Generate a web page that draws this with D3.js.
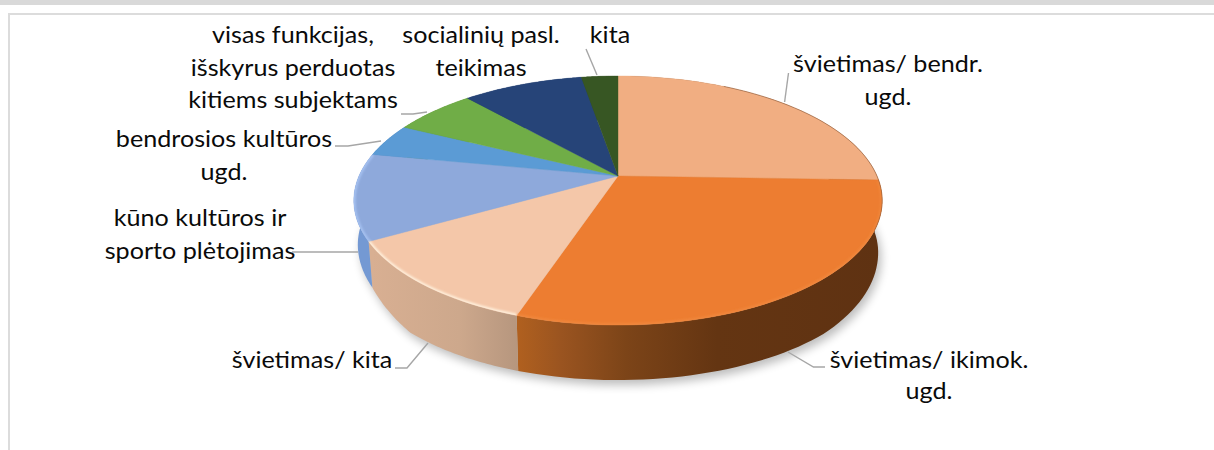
<!DOCTYPE html>
<html><head><meta charset="utf-8">
<script src="https://cdn.jsdelivr.net/npm/d3@7/dist/d3.min.js"></script>
<style>html,body{margin:0;padding:0;background:#fff}svg{display:block}text{font-family:Lato,"Open Sans",sans-serif;fill:#0a0a0a}</style>
</head><body><div id="chart"></div>
<script>
// Data (shares in %)
const categories = ["švietimas/ bendr. ugd.","švietimas/ ikimok. ugd.","švietimas/ kita","kūno kultūros ir sporto plėtojimas","bendrosios kultūros ugd.","visas funkcijas, išskyrus perduotas kitiems subjektams","socialinių pasl. teikimas","kita"];
const values = [25.5,29.6,11.6,11.2,4.3,6.1,8.9,2.7];
const topColors = ["#f1ae82","#ed7d31","#f4c7a9","#8ea9db","#5b9bd5","#70ad47","#264478","#375623"];
const sideColors = ["#8a5a3a","#7a4216","#c4a085","#7499d3","#4a7fb0","#5a8a38","#1e3660","#2c451c"];
const labelLines = [["švietimas/ bendr.","ugd."],["švietimas/ ikimok.","ugd."],["švietimas/ kita"],["kūno kultūros ir","sporto plėtojimas"],["bendrosios kultūros","ugd."],["visas funkcijas,","išskyrus perduotas","kitiems subjektams"],["socialinių pasl.","teikimas"],["kita"]];

// Layout
const W=1214,H=450, apex=[618,176], a=259, b=119.7, k=0.197;
const ell={cx:618,cy:200.5,rx:264,ry:124.5};
const labelPos=[[888,72,33],[929,368,31],[312,368,0],[200,226,33],[224,147,33],[293,43,32.5],[481,43,33],[610,43,0]];
const leaders=[
 [[788.5,73],[784.6,102]],
 [[788,352],[813.5,367],[825,367]],
 [[395,368],[407,368],[428,343]],
 [[292,252],[358,252]],
 [[335,146],[348,146],[381,141]],
 [[401,114],[413,114],[427,112]],
 [],
 [[586,49],[597,75]]
];

const svg=d3.select("#chart").append("svg").attr("width",W).attr("height",H);
const defs=svg.append("defs");
const blur=(id,s)=>defs.append("filter").attr("id",id).attr("x","-20%").attr("y","-20%").attr("width","140%").attr("height","140%").append("feGaussianBlur").attr("stdDeviation",s);
blur("sh",5);blur("b1",1.1);

svg.append("rect").attr("width",W).attr("height",H).attr("fill","#fff");
svg.append("rect").attr("width",W).attr("height",5).attr("fill","#d9d9d9");
svg.append("rect").attr("x",8).attr("y",13).attr("width",W-8).attr("height",2).attr("fill","#dcdcdc");
svg.append("rect").attr("x",8).attr("y",13).attr("width",2).attr("height",H-13).attr("fill","#dcdcdc");

const pie=d3.pie().sort(null).value(d=>d)(values);
const project=t=>{const X=Math.sin(t),Y=-Math.cos(t),w=1-k*Y;return [apex[0]+a*X/w,apex[1]+b*Y/w];};
const depthL=d3.scaleLinear().domain([0,.33,.6,1]).range([44,46,57,55]).clamp(true);
const depthR=d3.scaleLinear().domain([0,.6,1]).range([52,57,55]).clamp(true);
const toBase=p=>{const u=(p[0]-ell.cx)/ell.rx,v=(p[1]-ell.cy)/ell.ry;return [p[0]-4*u,p[1]+(u<0?depthL:depthR)(v)];};
const rim=(s)=>d3.range(0,61).map(i=>project(s.startAngle+(s.endAngle-s.startAngle)*i/60));
const line=d3.line();

// shadow: outline of the extruded base
const baseOutline=d3.range(0,361,2).map(t=>toBase(project(t*Math.PI/180)));
svg.append("path").attr("d",line(baseOutline)+"Z").attr("transform","translate(3,5)").attr("fill","#000").attr("opacity",.26).attr("filter","url(#sh)");

// side gradients
const grad=(id,x1,x2,stops)=>{const g=defs.append("linearGradient").attr("id",id).attr("gradientUnits","userSpaceOnUse").attr("x1",x1).attr("x2",x2).attr("y1",0).attr("y2",0);stops.forEach(s=>g.append("stop").attr("offset",s[0]).attr("stop-color",s[1]));return `url(#${id})`;};
const sideFill=sideColors.slice();
sideFill[1]=grad("g1",518,880,[[0,"#b0601f"],[.12,"#9a5420"],[.3,"#7c4418"],[.55,"#643512"],[1,"#5f3212"]]);
sideFill[2]=grad("g2",372,518,[[0,"#d8af92"],[.6,"#cda88c"],[1,"#b6967e"]]);

// sides, then top face
const sides=svg.append("g");
sides.selectAll("path").data(pie).join("path")
 .attr("d",d=>{const r=rim(d);return line(r.concat(r.map(toBase).reverse()))+"Z";})
 .attr("fill",(d,i)=>sideFill[i]);

const wedge=d=>line([apex].concat(rim(d)))+"Z";
svg.append("g").selectAll("path").data(pie).join("path")
 .attr("d",wedge).attr("fill",(d,i)=>topColors[i]).attr("stroke",(d,i)=>topColors[i]).attr("stroke-width",.4);

// bevel along the rim
const clip=defs.append("clipPath").attr("id","face");
clip.append("path").attr("d",line(d3.range(0,361,2).map(t=>project(t*Math.PI/180)))+"Z");
const bevelCols=[null,"#f0873c","#fff0dc","#a6c2f2",null,null,null,null];
svg.append("g").selectAll("path").data(pie.filter((d,i)=>bevelCols[i])).join("path")
 .attr("d",d=>line(rim(d))).attr("fill","none")
 .attr("stroke",d=>bevelCols[d.index]).attr("stroke-width",3.5).attr("filter","url(#b1)").attr("clip-path","url(#face)");
// dark edge on the upper right rim
svg.append("path").attr("d",line(d3.range(0,41).map(i=>project(pie[0].startAngle+0.5+(2.0-0.5)*i/40)))).attr("fill","none").attr("stroke","#8a5a3a").attr("stroke-width",1).attr("opacity",.55);

// leaders
svg.append("g").selectAll("path").data(leaders.filter(l=>l.length)).join("path")
 .attr("d",d=>line(d)).attr("fill","none").attr("stroke","#a6a6a6").attr("stroke-width",1.4);

// labels (the reference picture is stretched horizontally)
const fs=23.5, stretch=1.07;
labelLines.forEach((ls,i)=>{
 const [x,y,dy]=labelPos[i];
 ls.forEach((t,j)=>svg.append("text").attr("transform",`translate(${x},${y+j*dy}) scale(${stretch},1)`).attr("text-anchor","middle").attr("font-size",fs).text(t));
});
</script></body></html>
